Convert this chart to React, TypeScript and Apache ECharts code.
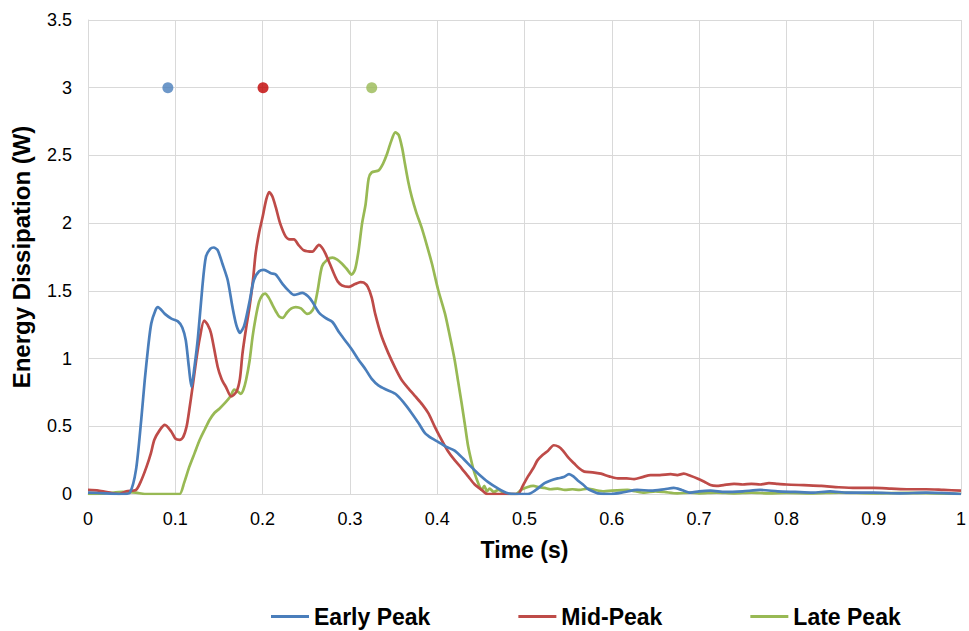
import React, { useEffect, useRef } from "react";
import * as echarts from "echarts";

const earlyTime = [0, 0.02, 0.04, 0.048, 0.055, 0.061, 0.065, 0.069, 0.0725, 0.0775, 0.08, 0.088, 0.0955, 0.103, 0.108, 0.112, 0.1155, 0.1185, 0.122, 0.126, 0.131, 0.135, 0.14, 0.144, 0.1485, 0.154, 0.16, 0.1655, 0.17, 0.174, 0.179, 0.185, 0.19, 0.196, 0.2015, 0.2095, 0.215, 0.223, 0.23, 0.236, 0.2455, 0.252, 0.257, 0.2645, 0.272, 0.28, 0.288, 0.295, 0.303, 0.31, 0.318, 0.325, 0.333, 0.342, 0.352, 0.361, 0.371, 0.379, 0.386, 0.394, 0.401, 0.41, 0.42, 0.43, 0.439, 0.447, 0.458, 0.47, 0.481, 0.49, 0.504, 0.513, 0.523, 0.53, 0.538, 0.545, 0.551, 0.556, 0.561, 0.567, 0.572, 0.578, 0.584, 0.599, 0.615, 0.629, 0.645, 0.66, 0.671, 0.68, 0.69, 0.7, 0.713, 0.73, 0.75, 0.77, 0.79, 0.81, 0.83, 0.85, 0.87, 0.9, 0.93, 0.96, 1.0];
const earlyValue = [0.01, 0.005, 0, 0.01, 0.18, 0.55, 0.84, 1.09, 1.26, 1.36, 1.38, 1.33, 1.295, 1.275, 1.23, 1.135, 0.94, 0.79, 0.94, 1.16, 1.53, 1.75, 1.81, 1.82, 1.8, 1.7, 1.58, 1.38, 1.245, 1.19, 1.245, 1.42, 1.58, 1.645, 1.655, 1.63, 1.62, 1.55, 1.5, 1.47, 1.485, 1.46, 1.42, 1.34, 1.3, 1.27, 1.19, 1.13, 1.06, 0.99, 0.92, 0.85, 0.8, 0.77, 0.74, 0.68, 0.595, 0.52, 0.45, 0.41, 0.385, 0.35, 0.32, 0.26, 0.2, 0.15, 0.09, 0.04, 0.005, 0, 0, 0.03, 0.08, 0.1, 0.115, 0.125, 0.147, 0.13, 0.1, 0.07, 0.04, 0.02, 0.005, 0, 0.015, 0.03, 0.025, 0.035, 0.045, 0.03, 0.01, 0.02, 0.025, 0.015, 0.02, 0.03, 0.02, 0.015, 0.01, 0.02, 0.01, 0.01, 0.005, 0.01, 0];

const midTime = [0, 0.012, 0.025, 0.036, 0.044, 0.055, 0.061, 0.067, 0.072, 0.076, 0.082, 0.088, 0.0955, 0.1, 0.105, 0.109, 0.113, 0.116, 0.12, 0.124, 0.128, 0.133, 0.137, 0.141, 0.1485, 0.153, 0.158, 0.164, 0.17, 0.174, 0.177, 0.181, 0.185, 0.189, 0.192, 0.196, 0.2, 0.204, 0.2075, 0.211, 0.215, 0.22, 0.2265, 0.231, 0.236, 0.241, 0.247, 0.257, 0.2645, 0.268, 0.272, 0.277, 0.2815, 0.286, 0.291, 0.299, 0.306, 0.312, 0.316, 0.3205, 0.325, 0.329, 0.336, 0.344, 0.352, 0.3595, 0.367, 0.375, 0.383, 0.39, 0.397, 0.405, 0.412, 0.42, 0.428, 0.4355, 0.443, 0.451, 0.4575, 0.47, 0.485, 0.4925, 0.498, 0.504, 0.51, 0.515, 0.521, 0.527, 0.5335, 0.539, 0.544, 0.55, 0.557, 0.5625, 0.5685, 0.578, 0.5875, 0.597, 0.607, 0.617, 0.6255, 0.635, 0.6445, 0.655, 0.6675, 0.675, 0.6825, 0.69, 0.698, 0.706, 0.713, 0.72, 0.728, 0.74, 0.75, 0.76, 0.77, 0.78, 0.79, 0.8, 0.82, 0.84, 0.86, 0.88, 0.9, 0.92, 0.94, 0.96, 0.98, 1.0];
const midValue = [0.03, 0.025, 0.01, 0, 0.02, 0.03, 0.1, 0.2, 0.3, 0.4, 0.47, 0.51, 0.46, 0.41, 0.4, 0.42, 0.5, 0.62, 0.8, 0.99, 1.15, 1.28, 1.25, 1.185, 0.94, 0.85, 0.79, 0.72, 0.755, 0.85, 1.04, 1.22, 1.38, 1.58, 1.775, 1.93, 2.045, 2.17, 2.23, 2.2, 2.12, 2.0, 1.9, 1.88, 1.88, 1.84, 1.8, 1.79, 1.84, 1.82, 1.775, 1.7, 1.63, 1.57, 1.54, 1.53, 1.55, 1.565, 1.56, 1.53, 1.45, 1.33, 1.17, 1.04, 0.93, 0.84, 0.78, 0.72, 0.66, 0.595, 0.5, 0.4, 0.32, 0.25, 0.19, 0.13, 0.07, 0.03, 0, 0, 0, 0, 0.06, 0.13, 0.19, 0.25, 0.29, 0.32, 0.36, 0.35, 0.32, 0.27, 0.225, 0.19, 0.165, 0.16, 0.15, 0.13, 0.115, 0.115, 0.11, 0.125, 0.14, 0.14, 0.147, 0.14, 0.15, 0.135, 0.115, 0.09, 0.066, 0.06, 0.066, 0.075, 0.07, 0.075, 0.07, 0.08, 0.075, 0.07, 0.065, 0.06, 0.05, 0.045, 0.045, 0.04, 0.035, 0.035, 0.03, 0.025];

const lateTime = [0, 0.02, 0.04, 0.055, 0.065, 0.08, 0.095, 0.105, 0.11, 0.116, 0.122, 0.128, 0.134, 0.139, 0.145, 0.1505, 0.158, 0.163, 0.1675, 0.171, 0.175, 0.178, 0.181, 0.185, 0.1885, 0.192, 0.196, 0.2, 0.203, 0.207, 0.211, 0.216, 0.219, 0.223, 0.228, 0.233, 0.238, 0.244, 0.251, 0.255, 0.259, 0.263, 0.268, 0.274, 0.28, 0.2855, 0.291, 0.296, 0.302, 0.306, 0.31, 0.314, 0.318, 0.3215, 0.325, 0.333, 0.338, 0.3425, 0.347, 0.352, 0.356, 0.36, 0.363, 0.367, 0.371, 0.376, 0.382, 0.388, 0.394, 0.401, 0.409, 0.415, 0.42, 0.424, 0.428, 0.432, 0.4355, 0.44, 0.443, 0.447, 0.451, 0.454, 0.457, 0.46, 0.465, 0.47, 0.476, 0.481, 0.49, 0.496, 0.503, 0.51, 0.517, 0.523, 0.53, 0.538, 0.546, 0.555, 0.563, 0.572, 0.58, 0.591, 0.6, 0.618, 0.627, 0.637, 0.65, 0.66, 0.675, 0.69, 0.7, 0.72, 0.74, 0.76, 0.78, 0.8, 0.83, 0.86, 0.9, 0.94, 0.97, 1.0];
const lateValue = [0, 0.005, 0.015, 0.01, 0, 0, 0, 0, 0.08, 0.2, 0.3, 0.4, 0.48, 0.545, 0.6, 0.63, 0.68, 0.72, 0.77, 0.76, 0.74, 0.77, 0.84, 0.98, 1.16, 1.3, 1.42, 1.47, 1.48, 1.45, 1.4, 1.34, 1.31, 1.3, 1.34, 1.37, 1.38, 1.37, 1.33, 1.34, 1.38, 1.5, 1.68, 1.73, 1.745, 1.73, 1.7, 1.665, 1.62, 1.66, 1.8, 2.0, 2.14, 2.33, 2.375, 2.39, 2.44, 2.51, 2.6, 2.67, 2.65, 2.55, 2.44, 2.3, 2.19, 2.08, 1.97, 1.84, 1.7, 1.51, 1.33, 1.15, 0.99, 0.83, 0.67, 0.5, 0.35, 0.22, 0.15, 0.08, 0.03, 0.06, 0.02, 0.04, 0.015, 0.03, 0.01, 0, 0, 0.03, 0.05, 0.06, 0.05, 0.045, 0.035, 0.04, 0.03, 0.035, 0.03, 0.04, 0.03, 0.02, 0.025, 0.03, 0.02, 0.01, 0.02, 0.015, 0.005, 0.01, 0.005, 0.01, 0.005, 0.01, 0.005, 0.008, 0.005, 0.01, 0.005, 0.008, 0.005, 0];

const seriesNames = ["Early Peak", "Mid-Peak", "Late Peak"];
const lineColors = ["#4A7EBB", "#BE4B48", "#98B954"];
const peakTimes = [0.0915, 0.2005, 0.325];
const peakLevels = [3, 3, 3];
const dotColors = ["#4A7EBB", "#C00000", "#98B954"];

const zip = (t: number[], v: number[]) => t.map((x, i) => [x, v[i]]);

export default function App() {
  const ref = useRef<HTMLDivElement>(null);
  useEffect(() => {
    document.body.style.margin = "0";
    if (!ref.current) return;
    const chart = echarts.init(ref.current, undefined, { renderer: "svg" });
    const font = "'Liberation Sans', Arial, sans-serif";
    const lines = [
      zip(earlyTime, earlyValue),
      zip(midTime, midValue),
      zip(lateTime, lateValue),
    ];
    chart.setOption({
      animation: false,
      textStyle: { fontFamily: font },
      grid: { left: 88, right: 4, top: 20, bottom: 137, containLabel: false },
      legend: {
        data: seriesNames,
        left: 266,
        top: 600,
        icon: "rect",
        itemWidth: 38,
        itemHeight: 3,
        itemGap: 88,
        textStyle: { fontSize: 23, fontWeight: "bold", color: "#000", fontFamily: font },
      },
      xAxis: {
        type: "value",
        min: 0,
        max: 1,
        interval: 0.1,
        name: "Time (s)",
        nameLocation: "middle",
        nameGap: 44,
        nameTextStyle: { fontSize: 23, fontWeight: "bold", color: "#000", fontFamily: font },
        axisLine: { show: true, lineStyle: { color: "#d9d9d9" } },
        axisTick: { show: false },
        axisLabel: { fontSize: 18, color: "#000", margin: 16, fontFamily: font },
        splitLine: { show: true, lineStyle: { color: "#d9d9d9", width: 1 } },
      },
      yAxis: {
        type: "value",
        min: 0,
        max: 3.5,
        interval: 0.5,
        name: "Energy Dissipation (W)",
        nameLocation: "middle",
        nameGap: 55,
        nameTextStyle: { fontSize: 24, fontWeight: "bold", color: "#000", fontFamily: font },
        axisLine: { show: true, lineStyle: { color: "#d9d9d9" } },
        axisTick: { show: false },
        axisLabel: { fontSize: 18, color: "#000", margin: 16, fontFamily: font },
        splitLine: { show: true, lineStyle: { color: "#d9d9d9", width: 1 } },
      },
      series: [
        ...seriesNames.map((name, i) => ({
          name,
          type: "line",
          data: lines[i],
          smooth: 0.25,
          showSymbol: false,
          symbol: "none",
          lineStyle: { color: lineColors[i], width: 2.7 },
          itemStyle: { color: lineColors[i] },
          z: 3 - i,
        })),
        {
          name: "peaks",
          type: "scatter",
          symbolSize: 11,
          data: peakTimes.map((t, i) => ({
            value: [t, peakLevels[i]],
            itemStyle: { color: dotColors[i] },
          })),
          z: 5,
        },
      ],
    });
    return () => chart.dispose();
  }, []);
  return <div ref={ref} style={{ width: 969, height: 631 }} />;
}
